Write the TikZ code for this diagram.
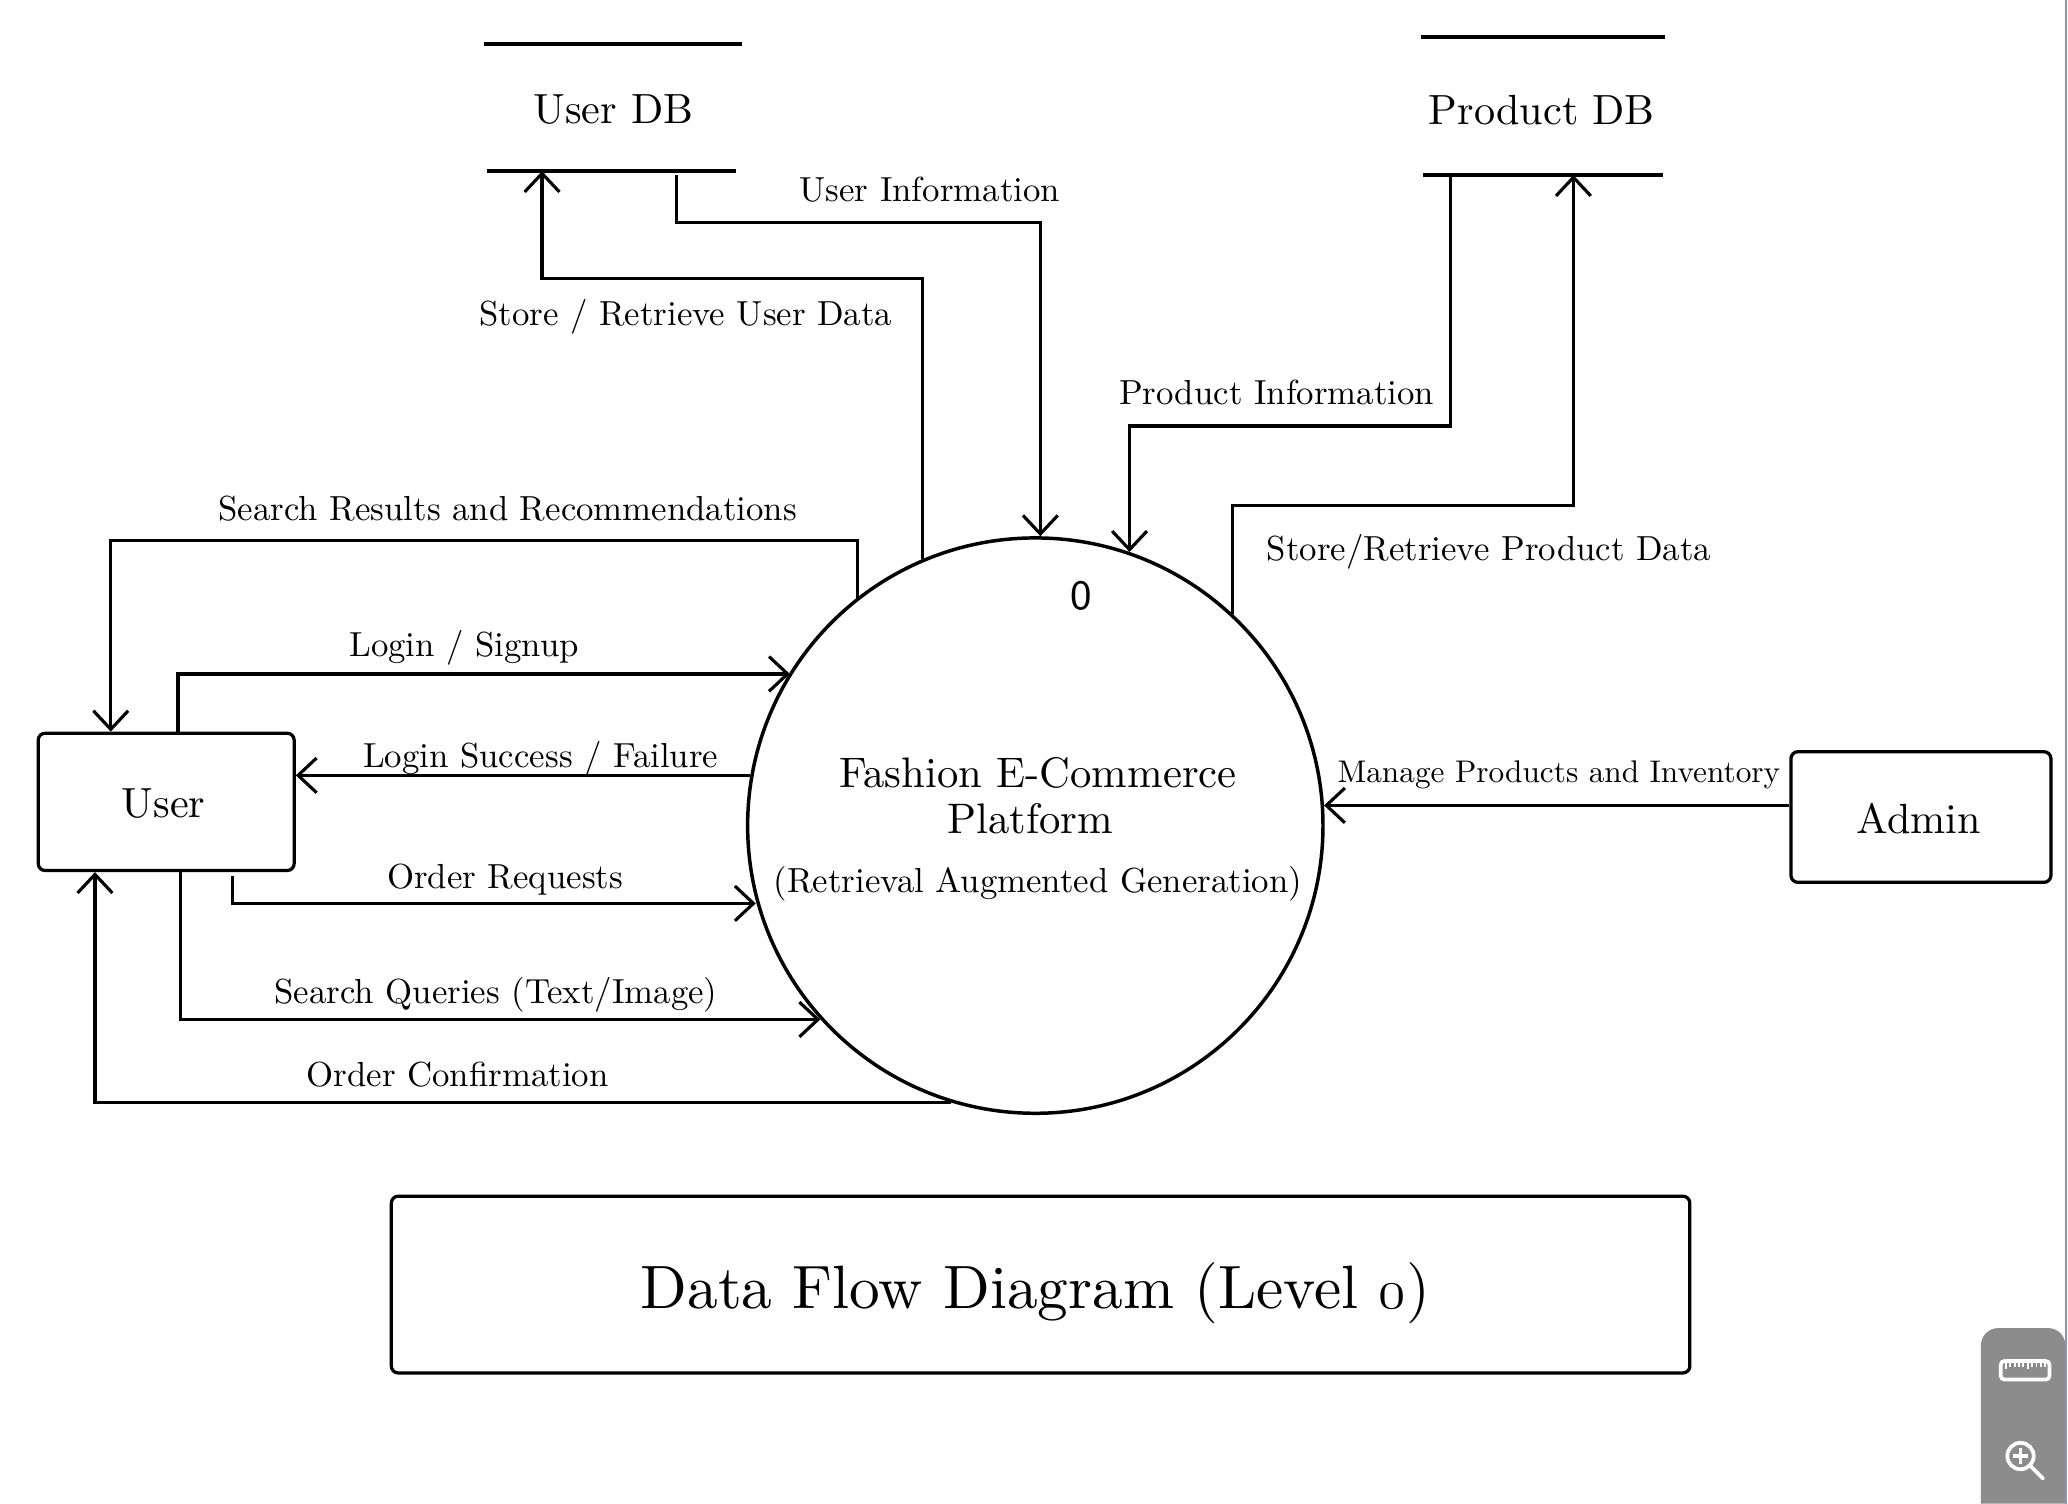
\documentclass[tikz,border=0pt]{standalone}
\usepackage{fontspec}
\setmainfont{lmroman10-regular.otf}
\usetikzlibrary{arrows.meta}
\definecolor{panelgray}{HTML}{8C8C8C}
\definecolor{edgeblue}{HTML}{8E95A8}
\begin{document}
\begin{tikzpicture}[x=0.01cm,y=-0.01cm,
  lbl/.style={font=\fontsize{7.5}{9}\selectfont, inner sep=0, anchor=base},
  smalllbl/.style={font=\fontsize{6.75}{8}\selectfont, inner sep=0, anchor=base},
  entname/.style={font=\fontsize{9.1}{10}\selectfont, inner sep=0, anchor=base},
  entbox/.style={draw, line width=0.7pt, rounded corners=1.5pt, inner sep=0},
  storebox/.style={minimum width=1.94cm, minimum height=0.95cm, inner sep=0},
  dbline/.style={line width=0.85pt},
  proc/.style={draw, circle, line width=0.75pt, minimum size=4.36cm, inner sep=0},
  proctext/.style={font=\fontsize{9.2}{10}\selectfont, inner sep=0, anchor=base},
  flow/.style={line width=0.68pt, -{Straight Barb[length=4pt,width=7.5pt]}},
  icon/.style={white, line width=0.8pt}
]
\useasboundingbox (0,0) rectangle (1568,1140);
\fill[white] (0,0) rectangle (1568,1140);

% ---------- process ----------
\node[proc] (p) at (785,626) {};
\node[font=\fontsize{9}{9}\sffamily, inner sep=0] (pnum) at (820,452) {0};
\node[proctext] (pt1) at (787,597) {Fashion E-Commerce};
\node[proctext] (pt2) at (781,632) {Platform};
\node[lbl] (pt3) at (787,677) {(Retrieval Augmented Generation)};

% ---------- data stores ----------
\node[storebox] (udb) at (465,81.5) {};
\node[entname] (udbt) at (465,93.5) {User DB};
\draw[dbline] (udb.north west) -- (udb.north east);
\draw[dbline] ([xshift=0.02cm]udb.south west) -- ([xshift=-0.05cm]udb.south east);

\node[storebox, minimum width=1.84cm, minimum height=1.03cm] (pdb) at (1170,80.5) {};
\node[entname] (pdbt) at (1169,94.5) {Product DB};
\draw[dbline] (pdb.north west) -- (pdb.north east);
\draw[dbline] ([xshift=0.02cm]pdb.south west) -- ([xshift=-0.02cm]pdb.south east);

% ---------- external entities ----------
\node[entbox, minimum width=1.94cm, minimum height=1.04cm] (user) at (126,608) {};
\node[entname] (usert) at (124,619.5) {User};
\node[entbox, minimum width=1.97cm, minimum height=0.99cm] (admin) at (1456.5,619.5) {};
\node[entname] (admint) at (1455,632) {Admin};

% ---------- title ----------
\node[entbox, minimum width=9.84cm, minimum height=1.34cm] (title) at (789,974) {};
\node[font=\fontsize{13.2}{15}\selectfont, inner sep=0, anchor=base] (titlet) at (785,992.5)
  {Data Flow Diagram (Level {\usefont{OML}{lmm}{m}{it}0})};

% ---------- bend points ----------
\coordinate (b1) at (411,211);
\coordinate (b2) at (513,169);
\coordinate (b3) at (1100,323);
\coordinate (b4) at (1193,383);
\coordinate (b5) at (84,410);
\coordinate (b6) at (135,511);
\coordinate (b8) at (176,685);
\coordinate (b9) at (137,773);
\coordinate (b10) at (72,835);

% ---------- flows ----------
\draw[flow] (p.113.5) |- (b1) -- (b1 |- udb.south);
\draw[flow] ([yshift=-0.03cm]b2 |- udb.south) -- (b2) -| (p.89.2);
\draw[flow] (b3 |- pdb.south) -- (b3) -| (p.71);
\draw[flow] (p.47.6) |- (b4) -- (b4 |- pdb.south);
\draw[flow] (p.128.9) |- (b5) -- (b5 |- user.north);
\draw[flow] (b6 |- user.north) -- (b6) -- (b6 -| p.148.1);
\draw[flow] (p.170.8) -- (p.170.8 -| user.east);
\draw[flow] ([yshift=-0.03cm]b8 |- user.south) -- (b8) -- (b8 -| p.195.7);
\draw[flow] (b9 |- user.south) -- (b9) -- (b9 -| p.222.4);
\draw[flow] (p.253.5) -| (b10 |- user.south);
\draw[flow] (p.4.2 -| admin.west) -- (p.4.2);

% ---------- flow labels ----------
\node[lbl] (l1) at (520,247) {Store / Retrieve User Data};
\node[lbl] (l2) at (705,153) {User Information};
\node[lbl] (l3) at (968,307) {Product Information};
\node[lbl] (l4) at (1129,425) {Store/Retrieve Product Data};
\node[lbl] (l5) at (385,395) {Search Results and Recommendations};
\node[lbl] (l6) at (352,498) {Login / Signup};
\node[lbl] (l7) at (410,582) {Login Success / Failure};
\node[lbl] (l8) at (383,674) {Order Requests};
\node[lbl] (l9) at (376,761) {Search Queries (Text/Image)};
\node[lbl] (l10) at (347,824) {Order Confirmation};
\node[smalllbl] (l11) at (1182,593) {Manage Products and Inventory};

% ---------- screenshot side panel ----------
\fill[panelgray] (1502,1140) [rounded corners=0.13cm] -- (1502,1007) -- (1566,1007) [sharp corners] -- (1566,1140) -- cycle;
\draw[edgeblue, line width=0.5pt] (1566.5,0) -- (1566.5,1140);
\draw[icon, rounded corners=0.8pt] (1517,1032) rectangle (1554,1046);
\foreach \i in {0,...,9} {
  \pgfmathsetmacro{\xx}{1521+\i*3.3}
  \draw[white, line width=0.4pt] (\xx,1033) -- (\xx,{1036.5+1.5*(mod(\i,5)==0)});
}
\draw[icon] (1532,1104) circle (0.1cm);
\draw[icon] (1526,1104) -- (1538,1104);
\draw[icon] (1532,1098) -- (1532,1110);
\draw[icon, line cap=round] (1539.5,1111.5) -- (1549,1121);
\end{tikzpicture}
\end{document}
